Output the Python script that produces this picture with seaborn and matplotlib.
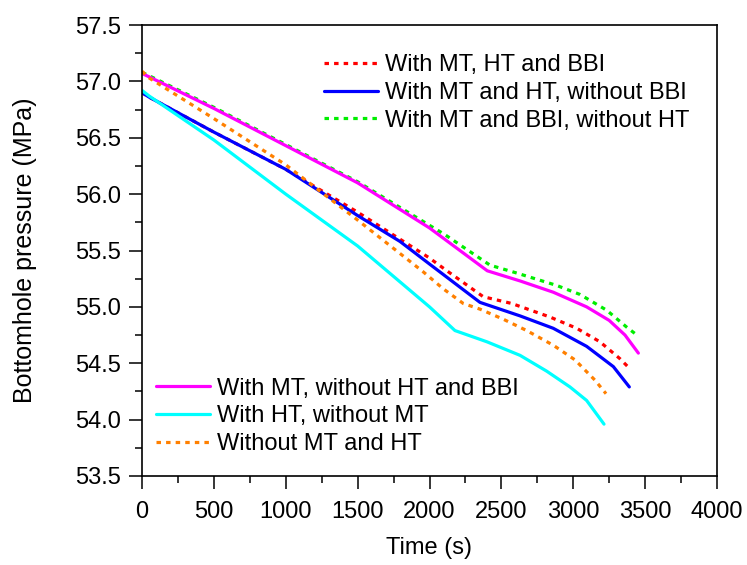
import matplotlib
matplotlib.use("Agg")
import matplotlib.pyplot as plt
from matplotlib.ticker import MultipleLocator, FormatStrFormatter
import seaborn as sns
import pandas as pd

# ---- data ----
t_mt_ht_bbi = [0, 50, 500, 1000, 1500, 1992, 2143, 2374, 2572, 2838, 3024, 3186, 3325, 3395]
p_mt_ht_bbi = [56.90, 56.86, 56.55, 56.22, 55.84, 55.44, 55.30, 55.09, 55.03, 54.91, 54.81, 54.69, 54.54, 54.45]

t_mt_ht = [0, 50, 500, 1000, 1500, 1795, 2000, 2351, 2630, 2861, 3093, 3279, 3390]
p_mt_ht = [56.90, 56.86, 56.55, 56.22, 55.81, 55.58, 55.38, 55.04, 54.92, 54.81, 54.65, 54.47, 54.29]

t_mt_bbi = [0, 50, 500, 1000, 1500, 2108, 2270, 2421, 2607, 2885, 3047, 3233, 3372, 3453]
p_mt_bbi = [57.08, 57.05, 56.77, 56.44, 56.11, 55.64, 55.50, 55.37, 55.30, 55.19, 55.11, 54.97, 54.82, 54.74]

t_mt = [0, 50, 500, 1000, 1500, 2000, 2402, 2630, 2861, 3093, 3250, 3360, 3453]
p_mt = [57.07, 57.04, 56.76, 56.43, 56.10, 55.70, 55.32, 55.23, 55.13, 55.00, 54.88, 54.75, 54.59]

t_ht = [0, 50, 500, 1000, 1500, 2000, 2177, 2400, 2630, 2815, 2977, 3093, 3214]
p_ht = [56.92, 56.87, 56.48, 56.00, 55.54, 55.00, 54.79, 54.69, 54.57, 54.43, 54.29, 54.17, 53.96]

t_none = [0, 50, 500, 1000, 1500, 1957, 2096, 2235, 2351, 2514, 2676, 2861, 3012, 3151, 3228]
p_none = [57.09, 57.03, 56.67, 56.26, 55.77, 55.31, 55.16, 55.03, 54.98, 54.89, 54.79, 54.66, 54.53, 54.35, 54.23]

labels = ["With MT, HT and BBI", "With MT and HT, without BBI", "With MT and BBI, without HT",
          "With MT, without HT and BBI", "With HT, without MT", "Without MT and HT"]
times = [t_mt_ht_bbi, t_mt_ht, t_mt_bbi, t_mt, t_ht, t_none]
pressures = [p_mt_ht_bbi, p_mt_ht, p_mt_bbi, p_mt, p_ht, p_none]
colors = ["#ff0000", "#0000ff", "#00ee00", "#ff00ff", "#00ffff", "#ff8000"]
dotted = [True, False, True, False, False, True]

frames = []
for lab, t, p in zip(labels, times, pressures):
    frames.append(pd.DataFrame({"Time (s)": t, "Bottomhole pressure (MPa)": p, "case": lab}))
df = pd.concat(frames, ignore_index=True)

sns.set_theme(style="ticks")
plt.rcParams["font.family"] = ["Liberation Sans", "DejaVu Sans"]
plt.rcParams["text.color"] = "black"
plt.rcParams["axes.labelcolor"] = "black"

fig = plt.figure(figsize=(7.47, 5.65), dpi=100)
ax = fig.add_axes([142 / 747, 1 - 476 / 565, 575 / 747, 451 / 565])

draw_order = [2, 0, 1, 3, 4, 5]
handles = {}
for i in draw_order:
    sub = df[df["case"] == labels[i]]
    ls = (0, (1.4, 1.6)) if dotted[i] else "-"
    sns.lineplot(data=sub, x="Time (s)", y="Bottomhole pressure (MPa)", ax=ax,
                 color=colors[i], linewidth=2.3, linestyle=ls, sort=False,
                 estimator=None, legend=False)
    handles[i] = ax.lines[-1]

ax.set_xlim(0, 4000)
ax.set_ylim(53.5, 57.5)
ax.xaxis.set_major_locator(MultipleLocator(500))
ax.xaxis.set_minor_locator(MultipleLocator(250))
ax.yaxis.set_major_locator(MultipleLocator(0.5))
ax.yaxis.set_minor_locator(MultipleLocator(0.25))
ax.xaxis.set_major_formatter(FormatStrFormatter("%d"))
ax.yaxis.set_major_formatter(FormatStrFormatter("%.1f"))

ax.tick_params(which="major", direction="out", length=9.5, width=1.1, color="black",
               labelsize=17, labelcolor="black", top=False, right=False)
ax.tick_params(axis="x", which="major", pad=8.5)
ax.tick_params(axis="y", which="major", pad=5.5)
ax.tick_params(which="minor", direction="out", length=5, width=1.1, color="black",
               top=False, right=False)
for s in ax.spines.values():
    s.set_visible(True)
    s.set_color("black")
    s.set_linewidth(1.2)

ax.set_xlabel("Time (s)", fontsize=17, color="black")
ax.xaxis.set_label_coords(0.5, -0.135)
ax.set_ylabel("Bottomhole pressure (MPa)", fontsize=18, color="black")
ax.yaxis.set_label_coords(-0.183, 0.5)

leg1 = ax.legend([handles[0], handles[1], handles[2]], labels[0:3],
                 loc="upper left", bbox_to_anchor=(0.316, 0.935), frameon=False,
                 fontsize=17, handlelength=2.3, handletextpad=0.3, labelspacing=0.24,
                 borderpad=0, borderaxespad=0)
ax.add_artist(leg1)
ax.legend([handles[3], handles[4], handles[5]], labels[3:6],
          loc="upper left", bbox_to_anchor=(0.024, 0.218), frameon=False,
          fontsize=17, handlelength=2.3, handletextpad=0.3, labelspacing=0.24,
          borderpad=0, borderaxespad=0)

fig.savefig("out.png", dpi=100)
